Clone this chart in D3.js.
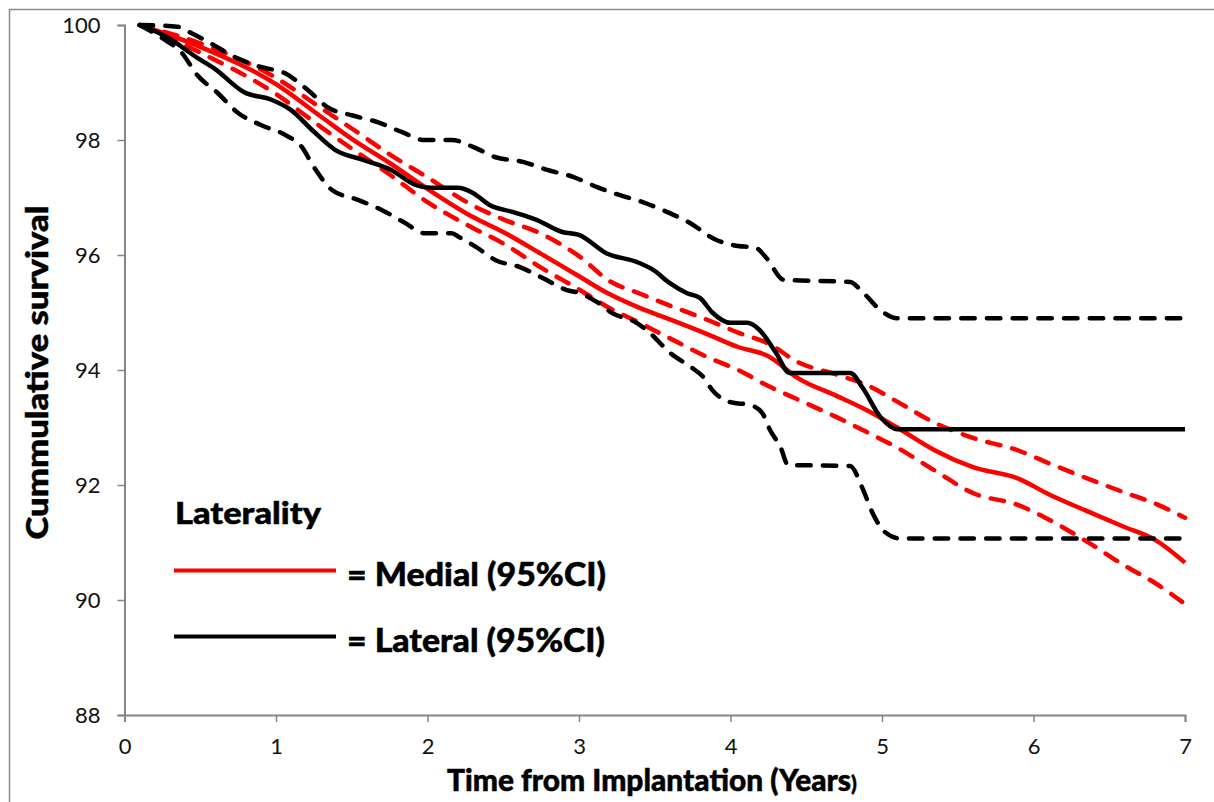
<!DOCTYPE html>
<html>
<head>
<meta charset="utf-8">
<script src="https://cdn.jsdelivr.net/npm/d3@7"></script>
<style>
  html, body { margin: 0; padding: 0; background: #fff; }
  svg { display: block; font-family: Lato, "Open Sans", sans-serif; }
  .bold { font-weight: 900; fill: #000; stroke: #000; stroke-width: 0.5px; }
</style>
</head>
<body>
<svg id="chart" width="1214" height="802"></svg>
<script>
// Kaplan-Meier survival by laterality, with 95% confidence limits
const xTicks = [0, 1, 2, 3, 4, 5, 6, 7];
const yTicks = [88, 90, 92, 94, 96, 98, 100];

// Medial group (shared time grid, years)
const medialTime  = [0.1, 0.5, 1.0, 1.3, 1.5, 1.75, 2.0, 2.3, 2.5, 2.75, 3.0, 3.2, 3.4, 3.6, 3.85, 4.05, 4.25, 4.45, 4.7, 4.9, 5.1, 5.35, 5.6, 5.9, 6.1, 6.35, 6.6, 6.8, 7.0];
const medialSurv  = [100, 99.62, 98.97, 98.4, 98.02, 97.6, 97.15, 96.66, 96.4, 96.02, 95.63, 95.32, 95.08, 94.88, 94.62, 94.4, 94.24, 93.85, 93.55, 93.3, 93.0, 92.6, 92.31, 92.11, 91.84, 91.55, 91.27, 91.05, 90.65];
const medialUpper = [100, 99.68, 99.08, 98.55, 98.2, 97.75, 97.35, 96.86, 96.62, 96.37, 95.98, 95.55, 95.33, 95.12, 94.87, 94.65, 94.46, 94.13, 93.92, 93.74, 93.45, 93.08, 92.82, 92.6, 92.38, 92.12, 91.87, 91.68, 91.43];
const medialLower = [100, 99.52, 98.8, 98.22, 97.85, 97.4, 96.92, 96.47, 96.2, 95.78, 95.4, 95.08, 94.82, 94.55, 94.22, 94.0, 93.72, 93.48, 93.18, 92.92, 92.65, 92.25, 91.86, 91.65, 91.4, 91.02, 90.6, 90.3, 89.93];

// Lateral group
const lateralTime = [0.1, 0.28, 0.48, 0.59, 0.79, 0.97, 1.1, 1.24, 1.39, 1.58, 1.76, 1.92, 2.02, 2.2, 2.3, 2.41, 2.56, 2.72, 2.89, 3.0, 3.18, 3.38, 3.49, 3.6, 3.71, 3.8, 3.88, 4.0, 4.11, 4.19, 4.3, 4.39, 4.79, 4.87, 4.99, 5.1, 7.0];
const lateralSurv = [100, 99.79, 99.43, 99.25, 98.83, 98.7, 98.52, 98.17, 97.83, 97.65, 97.48, 97.22, 97.17, 97.17, 97.08, 96.87, 96.75, 96.61, 96.4, 96.35, 96.03, 95.88, 95.74, 95.51, 95.34, 95.25, 95.0, 94.82, 94.82, 94.7, 94.3, 93.95, 93.95, 93.7, 93.18, 92.97, 92.97];

const lateralUpperTime = [0.1, 0.35, 0.44, 0.59, 0.73, 0.9, 1.06, 1.21, 1.34, 1.5, 1.67, 1.83, 1.98, 2.16, 2.3, 2.45, 2.63, 2.79, 2.96, 3.12, 3.27, 3.42, 3.58, 3.73, 3.9, 4.02, 4.17, 4.24, 4.35, 4.79, 4.87, 4.99, 5.1, 7.0];
const lateralUpper     = [100, 99.97, 99.86, 99.65, 99.44, 99.27, 99.16, 98.87, 98.57, 98.43, 98.31, 98.14, 98.0, 98.0, 97.88, 97.7, 97.62, 97.48, 97.36, 97.18, 97.04, 96.92, 96.75, 96.56, 96.27, 96.17, 96.12, 95.94, 95.57, 95.53, 95.36, 95.04, 94.9, 94.9];

const lateralLowerTime = [0.1, 0.25, 0.38, 0.48, 0.61, 0.75, 0.9, 1.06, 1.17, 1.25, 1.37, 1.54, 1.7, 1.85, 1.98, 2.16, 2.21, 2.32, 2.45, 2.61, 2.76, 2.92, 3.0, 3.12, 3.22, 3.38, 3.47, 3.6, 3.75, 3.82, 3.88, 4.0, 4.13, 4.21, 4.26, 4.33, 4.38, 4.79, 4.87, 4.94, 5.02, 5.12, 7.0];
const lateralLower     = [100, 99.77, 99.51, 99.13, 98.83, 98.47, 98.26, 98.09, 97.88, 97.53, 97.13, 96.96, 96.78, 96.56, 96.38, 96.38, 96.31, 96.14, 95.91, 95.79, 95.6, 95.39, 95.34, 95.18, 94.99, 94.82, 94.64, 94.3, 94.03, 93.88, 93.65, 93.44, 93.39, 93.25, 92.96, 92.66, 92.35, 92.33, 91.95, 91.5, 91.18, 91.07, 91.07];

const legendItems = [
  { label: "= Medial (95%CI)", color: "#ff0000", width: 259 },
  { label: "= Lateral (95%CI)", color: "#000000", width: 258 }
];

const svg = d3.select("#chart");
const axisGrey = "#868686";

// outer chart frame
svg.append("rect")
  .attr("x", 9.5).attr("y", 9.5)
  .attr("width", 1400).attr("height", 1000)
  .attr("fill", "none").attr("stroke", "#8a8a8a").attr("stroke-width", 1.5);

const x = d3.scaleLinear().domain([0, 7]).range([124.5, 1185]);
const y = d3.scaleLinear().domain([88, 100]).range([715, 25]);

// axes
const yAxis = svg.append("g")
  .attr("transform", `translate(${x(0)},0)`)
  .call(d3.axisLeft(y).tickValues(yTicks).tickSize(7).tickPadding(17).tickFormat(d3.format("d")));
const xAxis = svg.append("g")
  .attr("transform", `translate(0,${y(88)})`)
  .call(d3.axisBottom(x).tickValues(xTicks).tickSize(7).tickPadding(16).tickFormat(d3.format("d")));

[xAxis, yAxis].forEach(g => {
  g.select(".domain").attr("stroke", axisGrey).attr("stroke-width", 2);
  g.selectAll(".tick line").attr("stroke", axisGrey).attr("stroke-width", 1.5);
  g.selectAll(".tick text")
    .attr("fill", "#111")
    .style("font-family", "Lato, sans-serif")
    .style("font-size", "22px");
});

// series lines
const line = d3.line()
  .x(d => x(d[0]))
  .y(d => y(d[1]))
  .curve(d3.curveMonotoneX);

const zip = (ts, vs) => ts.map((t, i) => [t, vs[i]]);

const series = [
  { data: zip(medialTime, medialUpper), color: "#ff0000", dashed: true },
  { data: zip(medialTime, medialLower), color: "#ff0000", dashed: true },
  { data: zip(medialTime, medialSurv),  color: "#ff0000", dashed: false },
  { data: zip(lateralUpperTime, lateralUpper), color: "#000000", dashed: true },
  { data: zip(lateralLowerTime, lateralLower), color: "#000000", dashed: true },
  { data: zip(lateralTime, lateralSurv), color: "#000000", dashed: false }
];

svg.append("g").selectAll("path")
  .data(series)
  .join("path")
  .attr("d", d => line(d.data))
  .attr("fill", "none")
  .attr("stroke", d => d.color)
  .attr("stroke-width", 4.5)
  .attr("stroke-linejoin", "round")
  .attr("stroke-linecap", d => d.dashed ? "round" : "butt")
  .attr("stroke-dasharray", d => d.dashed ? "13.5,12.2" : null);

// legend
const legend = svg.append("g").attr("class", "legend");
legend.append("text")
  .attr("class", "bold")
  .attr("x", 175).attr("y", 524)
  .attr("textLength", 146).attr("lengthAdjust", "spacingAndGlyphs")
  .style("font-size", "31px")
  .text("Laterality");

const rows = legend.selectAll("g.row")
  .data(legendItems)
  .join("g")
  .attr("class", "row")
  .attr("transform", (d, i) => `translate(0,${570.5 + i * 66})`);
rows.append("line")
  .attr("x1", 174).attr("x2", 336)
  .attr("y1", 0).attr("y2", 0)
  .attr("stroke", d => d.color).attr("stroke-width", 4);
rows.append("text")
  .attr("class", "bold")
  .attr("x", 347).attr("y", 15)
  .attr("textLength", d => d.width).attr("lengthAdjust", "spacingAndGlyphs")
  .style("font-size", "32px")
  .text(d => d.label);

// axis titles
const xTitle = svg.append("text")
  .attr("class", "bold")
  .attr("x", 447).attr("y", 791)
  .style("font-size", "30px");
xTitle.append("tspan")
  .attr("textLength", 404).attr("lengthAdjust", "spacingAndGlyphs")
  .text("Time from Implantation (Years");
xTitle.append("tspan").style("font-size", "21px").text(")");

svg.append("text")
  .attr("class", "bold")
  .attr("transform", "translate(48,372.5) rotate(-90)")
  .attr("text-anchor", "middle")
  .attr("textLength", 334).attr("lengthAdjust", "spacingAndGlyphs")
  .style("font-size", "31px")
  .text("Cummulative survival");
</script>
</body>
</html>
